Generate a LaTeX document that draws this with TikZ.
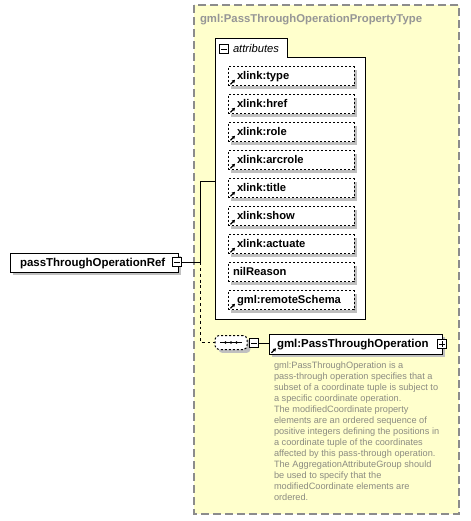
\documentclass[tikz,border=0pt]{standalone}
\usepackage{fontspec}
\setmainfont{Liberation Sans}
\usetikzlibrary{arrows.meta,shadows,calc}
\definecolor{ybg}{RGB}{255,255,204}
\definecolor{shgray}{RGB}{192,192,192}
\definecolor{ttlgray}{RGB}{150,150,150}
\definecolor{descgray}{RGB}{140,140,130}
\definecolor{bordergray}{RGB}{140,140,140}
\begin{document}
\begin{tikzpicture}[x=0.75pt,y=-0.75pt,
  every node/.style={inner sep=0pt, outer sep=0pt},
  shd/.style={general shadow={shadow xshift=2.6pt, shadow yshift=-2.6pt, fill=shgray}},
  attrbox/.style={draw, dash pattern=on 1.5pt off 1.5pt, fill=white, line width=0.75pt,
    minimum height=14.25pt, anchor=north west, inner xsep=6.75pt, text width=81pt, align=left,
    font=\bfseries\fontsize{8.4}{10}\selectfont, text height=5.2pt, text depth=0pt, shd},
  plainattr/.style={attrbox, inner xsep=3.75pt, text width=87pt},
  solidbox/.style={draw, fill=white, line width=0.75pt, anchor=north west, align=left,
    font=\bfseries\fontsize{8.6}{10}\selectfont, text depth=0pt, shd},
  minusbox/.style={draw, fill=white, line width=0.75pt, minimum size=7pt,
    path picture={\draw[line width=0.75pt] ([xshift=1.3pt]path picture bounding box.west) -- ([xshift=-1.3pt]path picture bounding box.east);}},
  plusbox/.style={minusbox,
    path picture={\draw[line width=0.75pt] ([xshift=1.3pt]path picture bounding box.west) -- ([xshift=-1.3pt]path picture bounding box.east);
      \draw[line width=0.75pt] ([yshift=-1.3pt]path picture bounding box.north) -- ([yshift=1.3pt]path picture bounding box.south);}},
  linkicon/.style={line width=0.9pt, -{Triangle[length=2.2pt,width=2.6pt]}},
  conn/.style={line width=0.75pt},
  dconn/.style={line width=0.75pt, dash pattern=on 2.2pt off 2.2pt},
]
\path[fill=white] (0,0) rectangle (471,521);
\useasboundingbox (0,0) rectangle (471,521);

% outer complex type box
\draw[bordergray, dash pattern=on 6pt off 3pt, line width=0.9pt, fill=ybg] (194,5) rectangle (459,514);
\node[anchor=base west, text=ttlgray, font=\bfseries\fontsize{8.5}{10}\selectfont] (title) at (200,22) {gml:PassThroughOperationPropertyType};

% attributes container
\draw[line width=0.75pt, fill=white] (215,319) -- (215,38) -- (287,38) -- (287,57) -- (365,57) -- (365,319) -- cycle;
\node[minusbox] (attrminus) at (224,49) {};
\node[anchor=base west, font=\itshape\fontsize{8.4}{10}\selectfont] (attrlabel) at (233,52.5) {attributes};

% attributes
\node[attrbox] (a1) at (228,66.5) {xlink:type};
\node[attrbox] (a2) at (228,94.5) {xlink:href};
\node[attrbox] (a3) at (228,122.5) {xlink:role};
\node[attrbox] (a4) at (228,150.5) {xlink:arcrole};
\node[attrbox] (a5) at (228,178.5) {xlink:title};
\node[attrbox] (a6) at (228,206.5) {xlink:show};
\node[attrbox] (a7) at (228,234.5) {xlink:actuate};
\node[plainattr] (a8) at (228,262.5) {nilReason};
\node[attrbox] (a9) at (228,290.5) {gml:remoteSchema};
\foreach \n in {a1,a2,a3,a4,a5,a6,a7,a9}{
  \draw[linkicon] ($(\n.south west)+(2.5,-1.2)$) -- ($(\n.south west)+(7,-5.7)$);
}

% root element
\node[solidbox, minimum width=126pt, minimum height=14.25pt, inner xsep=7.5pt, text width=111pt, text height=5.4pt] (ref) at (10,253) {passThroughOperationRef};
\node[minusbox] (refminus) at (177,262) {};

% sequence
\node[draw, dash pattern=on 1.5pt off 1.5pt, fill=white, line width=0.75pt, rounded corners=3pt,
  minimum width=24pt, minimum height=10.5pt, shd] (seq) at (231,342.5) {};
\draw[line width=0.75pt] ($(seq.center)+(-11,0)$) -- ($(seq.center)+(11,0)$);
\foreach \dx in {-5.5,0,5.5}{\fill ($(seq.center)+(\dx,0)$) circle (1.4);}
\node[minusbox] (seqminus) at (254,343) {};

% child element
\node[solidbox, minimum width=129.75pt, minimum height=15pt, inner xsep=6pt, text width=117.75pt, text height=5pt] (elem) at (269,334) {gml:PassThroughOperation};
\draw[linkicon] ($(elem.south west)+(2.5,-1.2)$) -- ($(elem.south west)+(7,-5.7)$);
\node[plusbox] (elemplus) at (442,344) {};

% connectors
\coordinate (j1) at (200,262);
\coordinate (j2) at (200,181);
\coordinate (attrsW) at (215,181);
\coordinate (j3) at (200,342.5);
\draw[conn] (refminus.east) -- (j1) -- (j2) -- (attrsW);
\draw[dconn] (j1) -- (j3) -- (seq.west);
\draw[conn] (seqminus.east) -- (seqminus.east -| elem.west);

% description
\node[anchor=north west, align=left, text=descgray, font=\fontsize{6.9}{8.2}\selectfont] (desc) at (274,362.3) {gml:PassThroughOperation is a\\
pass-through operation specifies that a\\
subset of a coordinate tuple is subject to\\
a specific coordinate operation.\\
The modifiedCoordinate property\\
elements are an ordered sequence of\\
positive integers defining the positions in\\
a coordinate tuple of the coordinates\\
affected by this pass-through operation.\\
The AggregationAttributeGroup should\\
be used to specify that the\\
modifiedCoordinate elements are\\
ordered.};
\end{tikzpicture}
\end{document}
